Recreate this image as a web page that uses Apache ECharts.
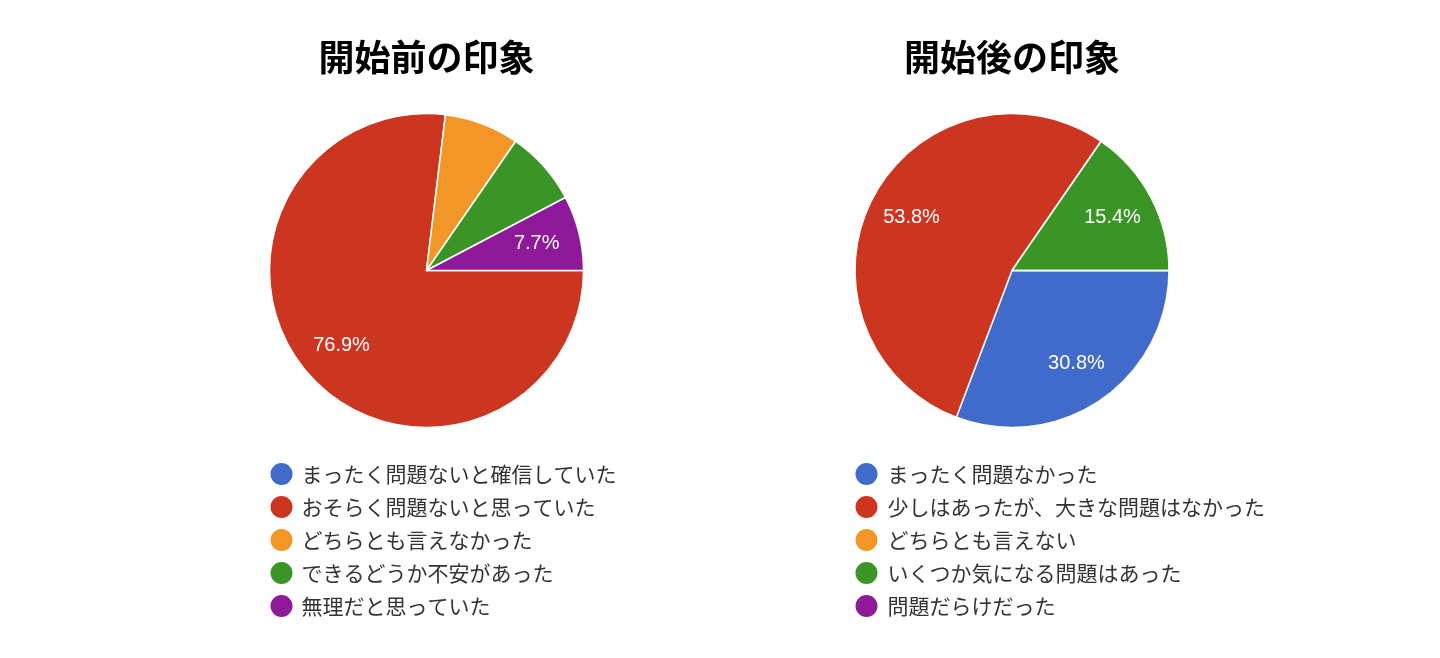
<!DOCTYPE html>
<html><head><meta charset="utf-8">
<script src="https://cdn.jsdelivr.net/npm/echarts@6/dist/echarts.min.js"></script>
<style>html,body{margin:0;padding:0;background:#fff}#c{width:1440px;height:658px}</style>
</head><body><div id="c"></div>
<script>
const beforeTitle = '開始前の印象';
const afterTitle = '開始後の印象';
const beforeCategories = ['まったく問題ないと確信していた','おそらく問題ないと思っていた','どちらとも言えなかった','できるどうか不安があった','無理だと思っていた'];
const beforeValues = [0, 10, 1, 1, 1];
const beforeLabelShown = [false, true, false, false, true];
const afterCategories = ['まったく問題なかった','少しはあったが、大きな問題はなかった','どちらとも言えない','いくつか気になる問題はあった','問題だらけだった'];
const afterValues = [4, 7, 0, 2, 0];
const afterLabelShown = [true, true, false, true, false];
const palette = ['#406bca','#cc3520','#f39628','#3b9526','#8e1a99'];

const CJK = '"Noto Sans CJK JP", "Noto Sans", sans-serif';
const R = 157;

function buildSeries(cats, vals, shown, cx) {
  const data = cats.map((n, i) => ({ name: n, value: vals[i] }));
  const main = {
    type: 'pie', center: [cx, 270.5], radius: [0, R],
    startAngle: 0, clockwise: true, percentPrecision: 1,
    color: palette, label: { show: false }, labelLine: { show: false },
    itemStyle: { borderColor: '#fff', borderWidth: 1.5 },
    emphasis: { scale: false }, silent: true,
    data: data
  };
  const labels = {
    type: 'pie', center: [cx, 270.5], radius: [64, R],
    startAngle: 0, clockwise: true, percentPrecision: 1,
    silent: true, avoidLabelOverlap: false,
    itemStyle: { color: 'rgba(0,0,0,0)', borderWidth: 0 },
    labelLine: { show: false },
    data: cats.map((n, i) => ({
      name: n, value: vals[i],
      label: { show: shown[i], position: 'inside', formatter: '{d}%',
        color: '#fff', fontSize: 20, fontFamily: '"Liberation Sans", Arial, sans-serif' }
    }))
  };
  return [main, labels];
}

function buildLegend(cats, left, pad) {
  return {
    data: cats, orient: 'vertical', left: left, top: 461, padding: 0,
    itemWidth: 24, itemHeight: 24, itemGap: 7, icon: 'circle',
    selectedMode: false,
    textStyle: { fontSize: 21, lineHeight: 24, color: '#333', fontFamily: CJK, padding: [0, 0, 0, pad] }
  };
}

const chart = echarts.init(document.getElementById('c'), null, { renderer: 'canvas' });
chart.setOption({
  animation: false,
  title: [
    { text: beforeTitle, left: 426.5, top: 39, textAlign: 'center', padding: 0,
      textStyle: { fontSize: 36, fontWeight: 'bold', color: '#000', fontFamily: CJK } },
    { text: afterTitle, left: 1012, top: 39, textAlign: 'center', padding: 0,
      textStyle: { fontSize: 36, fontWeight: 'bold', color: '#000', fontFamily: CJK } }
  ],
  legend: [buildLegend(beforeCategories, 268.5, 3), buildLegend(afterCategories, 853.5, 4)],
  series: [
    ...buildSeries(beforeCategories, beforeValues, beforeLabelShown, 426.5),
    ...buildSeries(afterCategories, afterValues, afterLabelShown, 1012)
  ]
});
</script></body></html>
